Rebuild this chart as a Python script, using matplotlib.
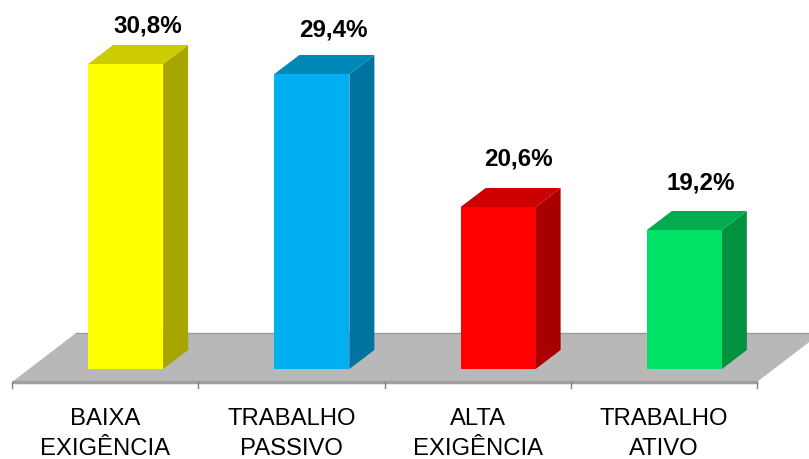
import matplotlib
matplotlib.use('Agg')
import matplotlib.pyplot as plt
from matplotlib.patches import Polygon

plt.rcParams['font.family'] = ['Liberation Sans', 'DejaVu Sans']

categorias = ['BAIXA\nEXIGÊNCIA', 'TRABALHO\nPASSIVO', 'ALTA\nEXIGÊNCIA', 'TRABALHO\nATIVO']
valores = [30.8, 29.4, 20.6, 19.2]
# altura aparente das barras no grafico original (o eixo nao e proporcional)
alturas = [305, 295, 162, 139]
cor_frente = ['#FFFF00', '#00B0F0', '#FF0000', '#00E266']
cor_topo = ['#CCCC00', '#0088B8', '#CC0000', '#00AC4E']
cor_lado = ['#A6A600', '#00749E', '#A80000', '#00923F']

W, H = 809, 460
slot = 186.25   # px por categoria
x0, y0 = 12, 370  # origem do eixo em px

fig = plt.figure(figsize=(W / 100, H / 100), dpi=100)
ax = fig.add_axes([0, 0, 1, 1])
ax.set_xlim(-x0 / slot, (W - x0) / slot)
ax.set_ylim(y0 - H, y0)
ax.axis('off')

# profundidade 3D
dx = 25 / slot
dy = 19
largura = 75 / slot
desloc = 0.61   # centro da barra dentro da categoria

# chao
chao_front = -13
chao_back = 36
chao_dx = 64 / slot
ax.add_patch(Polygon([(0, chao_front), (4, chao_front), (4 + chao_dx, chao_back), (chao_dx, chao_back)],
                     closed=True, fc='#B8B8B8', ec='none', zorder=1))
ax.plot([chao_dx, 4 + chao_dx], [chao_back, chao_back], color='#9A9A9A', lw=1, zorder=2)
ax.plot([0, 4], [chao_front, chao_front], color='#A0A0A0', lw=2.5, zorder=2, solid_capstyle='butt')
for i in range(5):
    ax.plot([i, i], [chao_front, chao_front - 6], color='#808080', lw=1, zorder=2)

for i, h in enumerate(alturas):
    e = i + desloc - largura / 2
    d = e + largura
    ax.add_patch(Polygon([(d, 0), (d + dx, dy), (d + dx, h + dy), (d, h)], fc=cor_lado[i], ec='none', zorder=3))
    ax.add_patch(Polygon([(e, h), (d, h), (d + dx, h + dy), (e + dx, h + dy)], fc=cor_topo[i], ec='none', zorder=3))
    ax.add_patch(Polygon([(e, 0), (d, 0), (d, h), (e, h)], fc=cor_frente[i], ec='none', zorder=4))

# rotulos
ajuste_x = [22.5, 21.5, 20.5, 16.5]
ajuste_y = [39, 45, 49, 48]
for i, v in enumerate(valores):
    ax.text(i + desloc + ajuste_x[i] / slot, alturas[i] + ajuste_y[i],
            '{:.1f}%'.format(v).replace('.', ','),
            ha='center', va='center', fontsize=17.4, fontweight='bold', color='black')

for i, c in enumerate(categorias):
    ax.text(i + 0.5, -64, c, ha='center', va='center', fontsize=17.2, color='black', linespacing=1.47)

plt.savefig('out.png', dpi=100)
plt.close()
